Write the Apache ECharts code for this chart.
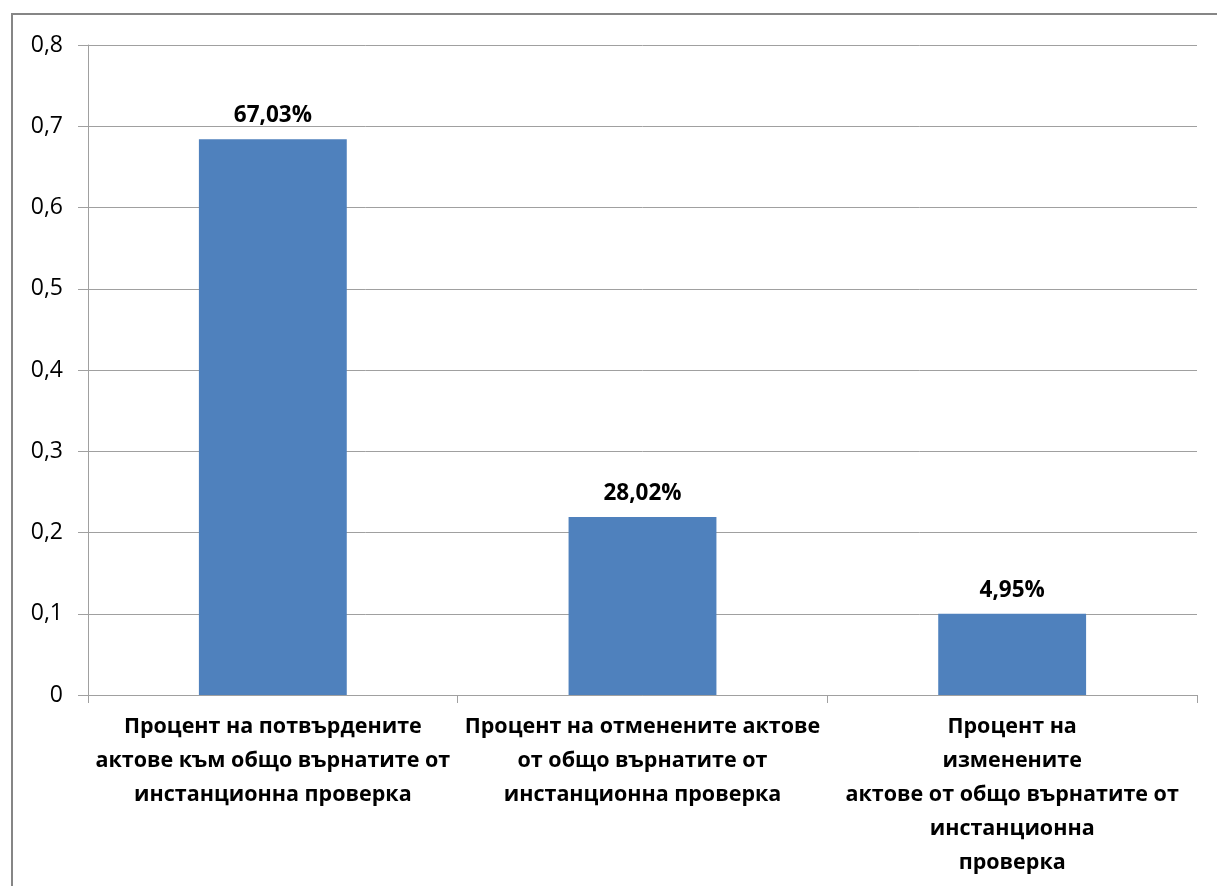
<!DOCTYPE html>
<html><head><meta charset="utf-8">
<script src="https://cdn.jsdelivr.net/npm/echarts@6/dist/echarts.min.js"></script>
<style>html,body{margin:0;padding:0;background:#fff}#c{width:1217px;height:886px}</style>
</head><body><div id="c"></div>
<script>
const categories = [
  "Процент на потвърдените\nактове към общо върнатите от\nинстанционна проверка",
  "Процент на отменените актове\nот общо върнатите от\nинстанционна проверка",
  "Процент на\nизменените\nактове от общо върнатите от\nинстанционна\nпроверка"
];
const values = [0.684, 0.219, 0.1];
const valueLabels = ["67,03%", "28,02%", "4,95%"];
const yTicks = { min: 0, max: 0.8, interval: 0.1 };

const chart = echarts.init(document.getElementById('c'));
const font = "'Open Sans', 'Noto Sans', sans-serif";
chart.setOption({
  animation: false,
  backgroundColor: '#fff',
  graphic: [{
    type: 'polyline', silent: true,
    shape: { points: [[12, 886], [12, 14], [1217, 14]] },
    style: { stroke: '#868686', lineWidth: 2, fill: null }
  }],
  grid: { left: 88, right: 20, top: 45, bottom: 191, containLabel: false },
  xAxis: {
    type: 'category', data: categories,
    axisLine: { lineStyle: { color: '#a0a0a0', width: 1 } },
    axisTick: { show: true, length: 8, lineStyle: { color: '#a0a0a0' } },
    axisLabel: { interval: 0, margin: 15, color: '#000', fontFamily: font, fontWeight: 'bold',
      fontSize: 21.5, lineHeight: 34, align: 'center' }
  },
  yAxis: {
    type: 'value', min: yTicks.min, max: yTicks.max, interval: yTicks.interval,
    axisLine: { show: true, lineStyle: { color: '#a0a0a0', width: 1 } },
    axisTick: { show: true, length: 10, lineStyle: { color: '#a0a0a0' } },
    splitLine: { lineStyle: { color: '#a0a0a0', width: 1 } },
    axisLabel: { margin: 25, color: '#000', fontFamily: font, fontSize: 23,
      formatter: v => (Math.round(v * 10) / 10).toString().replace('.', ',') }
  },
  series: [{
    type: 'bar', data: values, barWidth: '40%',
    itemStyle: { color: '#4F81BD' },
    label: { show: true, position: 'top', distance: 12, color: '#000', fontFamily: font,
      fontWeight: 'bold', fontSize: 22.5,
      formatter: p => valueLabels[p.dataIndex] }
  }]
});
</script></body></html>
